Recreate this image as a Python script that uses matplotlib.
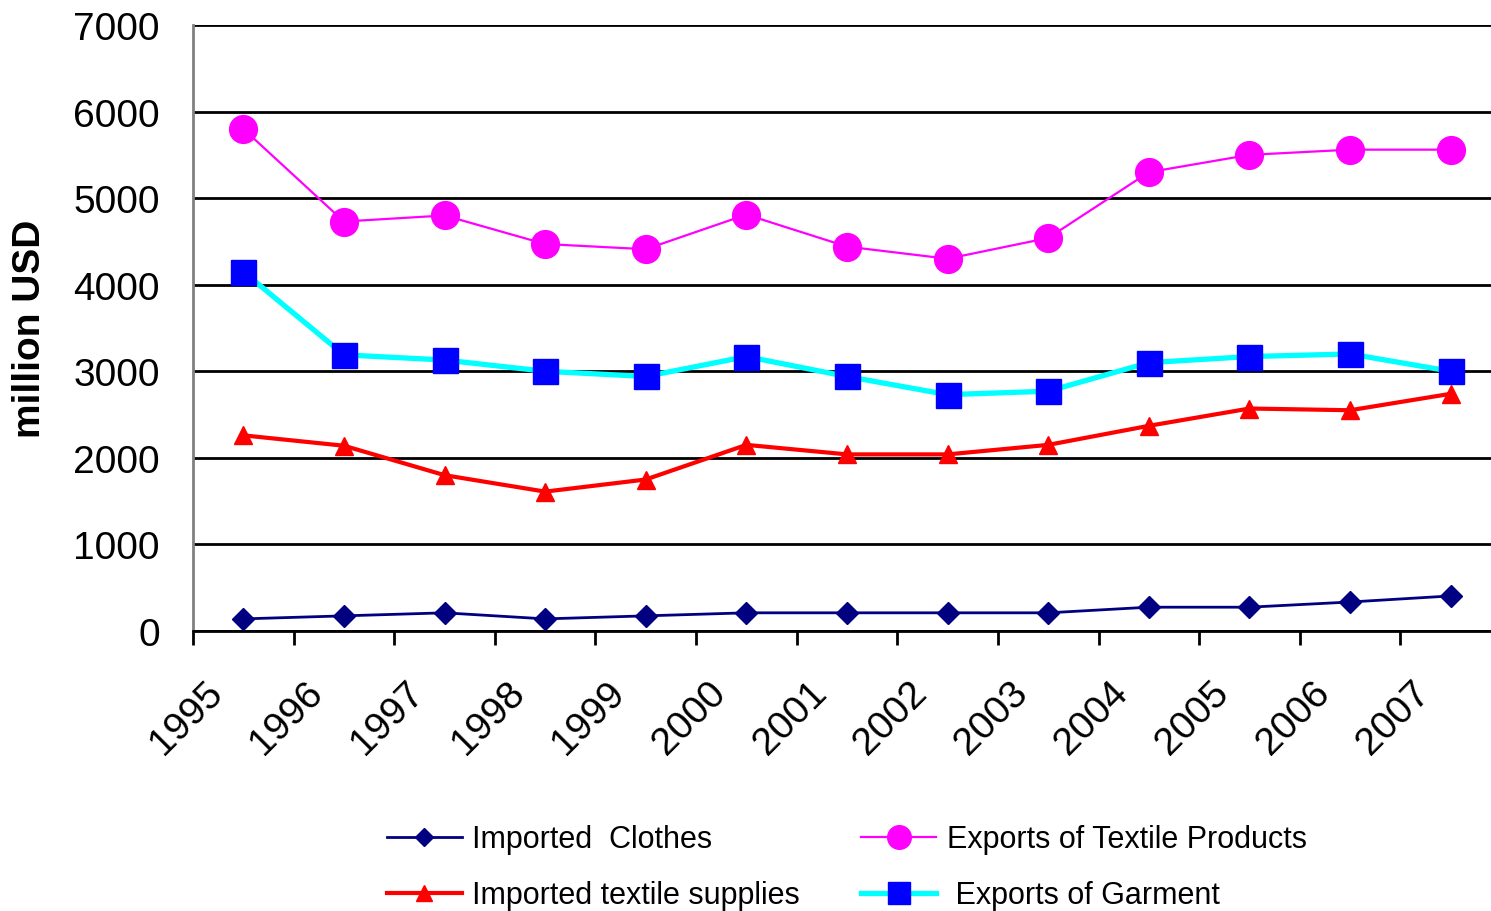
import numpy as np
import matplotlib.pyplot as plt
import matplotlib.transforms as mtransforms

plt.rcParams['font.family'] = ['Liberation Sans', 'DejaVu Sans']

years = ['1995', '1996', '1997', '1998', '1999', '2000', '2001',
         '2002', '2003', '2004', '2005', '2006', '2007']
imported_clothes = [140, 175, 210, 140, 175, 210, 210, 210, 210, 275, 275, 335, 405]
exports_textile = [5800, 4730, 4800, 4470, 4410, 4810, 4440, 4300, 4540, 5300, 5500, 5560, 5560]
imported_supplies = [2260, 2140, 1800, 1610, 1750, 2150, 2040, 2040, 2150, 2370, 2570, 2550, 2740]
exports_garment = [4150, 3190, 3130, 3000, 2940, 3170, 2940, 2730, 2770, 3100, 3170, 3200, 3000]


def main():
    fig = plt.figure(figsize=(14.91, 9.12), dpi=100)
    # plot area runs a bit past the right edge, like the original
    ax = fig.add_axes([193/1491, 1-632/912, 1308/1491, 606/912])

    x = np.arange(len(years))
    l1, = ax.plot(x, imported_clothes, '-', color='#000080', linewidth=2,
                  marker='D', markersize=11, markerfacecolor='#000080',
                  markeredgecolor='#000080', label='Imported  Clothes', zorder=3)
    l2, = ax.plot(x, exports_textile, '-', color='#FF00FF', linewidth=1.6,
                  marker='o', markersize=20, markerfacecolor='#FF00FF',
                  markeredgecolor='#FF00FF', label='Exports of Textile Products', zorder=3)
    l3, = ax.plot(x, imported_supplies, '-', color='#FF0000', linewidth=3,
                  marker='^', markersize=13, markerfacecolor='#FF0000',
                  markeredgecolor='#FF0000', label='Imported textile supplies', zorder=3)
    l4, = ax.plot(x, exports_garment, '-', color='#00FFFF', linewidth=3.8,
                  marker='s', markersize=18, markerfacecolor='#0000FF',
                  markeredgecolor='#0000FF', label=' Exports of Garment', zorder=3)

    ax.set_xlim(-0.5, len(years) - 0.5)
    ax.set_ylim(0, 7000)
    ax.set_yticks(np.arange(0, 7001, 1000))
    ax.yaxis.grid(True, color='black', linewidth=2)
    ax.set_axisbelow(True)

    ax.set_xticks(x)
    ax.set_xticklabels(years, rotation=45, ha='right', va='top',
                       rotation_mode='anchor')
    ax.set_xticks(np.arange(-0.5, len(years) + 0.5, 1), minor=True)
    ax.tick_params(axis='x', which='major', length=0, pad=31, labelsize=28)
    ax.tick_params(axis='x', which='minor', length=10, width=2,
                   direction='out', color='black')
    ax.tick_params(axis='y', length=0, pad=24, labelsize=28)

    offset = mtransforms.ScaledTranslation(-39/100, 0, fig.dpi_scale_trans)
    for lab in ax.get_xticklabels():
        lab.set_transform(lab.get_transform() + offset)

    for s in ['top', 'right']:
        ax.spines[s].set_visible(False)
    ax.spines['left'].set_color('#808080')
    ax.spines['left'].set_linewidth(2)
    ax.spines['bottom'].set_color('black')
    ax.spines['bottom'].set_linewidth(2)

    ax.set_ylabel('million USD', fontsize=28, fontweight='bold')
    ax.yaxis.set_label_coords(-0.111, 0.5)

    fig.legend([l1, l3, l2, l4],
               [l1.get_label(), l3.get_label(), l2.get_label(), l4.get_label()],
               ncol=2, loc='center', bbox_to_anchor=(0.568, 0.048),
               frameon=False, fontsize=22, markerscale=0.85,
               handlelength=2.45, columnspacing=2.0, labelspacing=0.85,
               handletextpad=0.35)

    fig.savefig('out.png', dpi=100)


if __name__ == '__main__':
    main()
